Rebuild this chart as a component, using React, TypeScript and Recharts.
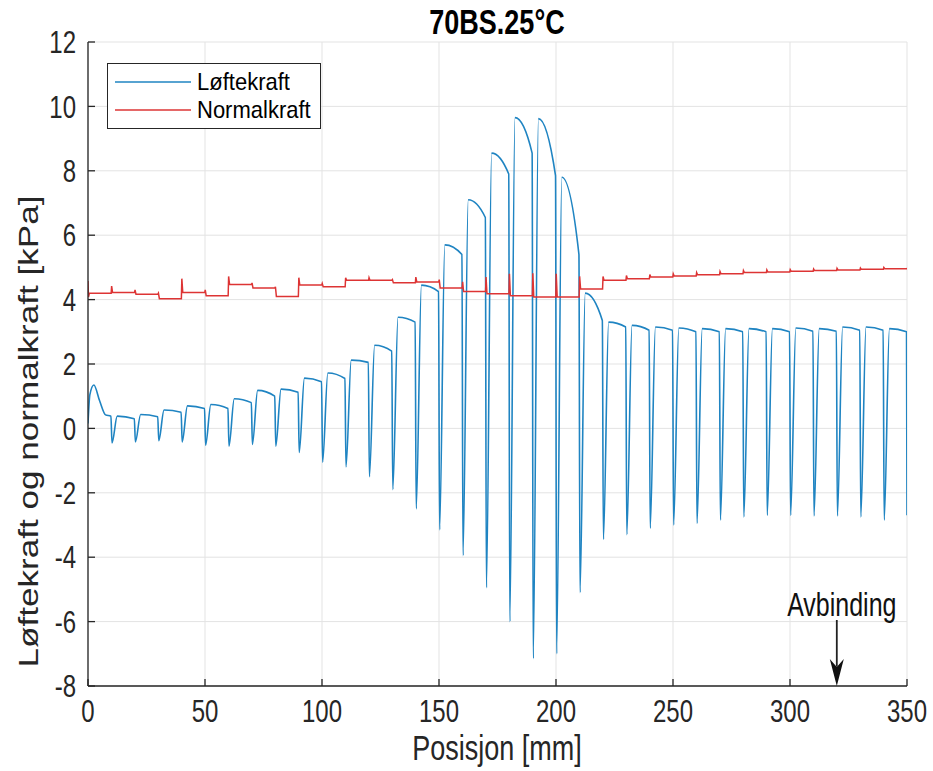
import React from 'react';
import { LineChart, Line, XAxis, YAxis, CartesianGrid, Legend, ReferenceLine, ReferenceDot } from 'recharts';

const xTicks = [0, 50, 100, 150, 200, 250, 300, 350];
const yTicks = [-8, -6, -4, -2, 0, 2, 4, 6, 8, 10, 12];

// Løftekraft: first cycle read point by point, then one dip / peak / end per 10 mm cycle
const liftStart = [[0, 0.15], [0.8, 1.05], [2.5, 1.35], [5, 0.85], [7.5, 0.42], [9.8, 0.38]];
const liftDips = [-0.45, -0.42, -0.38, -0.42, -0.52, -0.55, -0.5, -0.55, -0.75, -1.05, -1.2, -1.5, -1.9, -2.5, -3.15, -3.95, -4.95, -6.0, -7.15, -7.0, -5.1, -3.45, -3.3, -3.1, -3.0, -2.95, -2.85, -2.75, -2.7, -2.7, -2.72, -2.72, -2.75, -2.85];
const liftPeaks = [0.38, 0.43, 0.57, 0.7, 0.74, 0.92, 1.18, 1.22, 1.56, 1.72, 2.12, 2.58, 3.45, 4.45, 5.7, 7.1, 8.55, 9.65, 9.62, 7.8, 4.2, 3.3, 3.2, 3.15, 3.12, 3.1, 3.1, 3.1, 3.1, 3.12, 3.1, 3.15, 3.15, 3.1];
const liftEnds = [0.3, 0.36, 0.5, 0.62, 0.62, 0.8, 1.0, 1.12, 1.45, 1.55, 2.05, 2.4, 3.3, 4.25, 5.4, 6.55, 7.9, 8.55, 7.85, 5.4, 3.35, 3.15, 3.05, 3.05, 3.0, 3.0, 3.0, 3.0, 3.0, 3.02, 3.02, 3.05, 3.05, 3.0];
const liftLast = -2.7;

// Normalkraft: spike at each 10 mm boundary, level within the cycle
const normStart = [[0, 4.58], [0.2, 4.08]];
const normSpikes = [4.42, 4.3, 4.2, 4.65, 4.3, 4.72, 4.52, 4.4, 4.68, 4.5, 4.68, 4.68, 4.62, 4.7, 4.62, 4.55, 4.7, 4.8, 4.82, 4.8, 4.72, 4.72, 4.75, 4.78, 4.8, 4.84, 4.87, 4.9, 4.92, 4.93, 4.95, 4.97, 4.98, 5.0];
const normLevels = [4.2, 4.22, 4.17, 4.03, 4.22, 4.12, 4.47, 4.36, 4.1, 4.45, 4.4, 4.6, 4.6, 4.52, 4.55, 4.36, 4.25, 4.18, 4.12, 4.08, 4.08, 4.33, 4.6, 4.65, 4.7, 4.73, 4.77, 4.8, 4.84, 4.86, 4.88, 4.9, 4.92, 4.94, 4.96];
const normLast = 4.98;

const liftData: { x: number; y: number }[] = liftStart.map(([x, y]) => ({ x, y }));
liftDips.forEach((d, i) => {
  const s = (i + 1) * 10;
  liftData.push({ x: s + 0.25, y: d }, { x: s + 2.5, y: liftPeaks[i] }, { x: s + 9.8, y: liftEnds[i] });
});
liftData.push({ x: 350, y: liftLast });

const normData: { x: number; y: number }[] = normStart.map(([x, y]) => ({ x, y }));
normData.push({ x: 0.6, y: normLevels[0] }, { x: 9.9, y: normLevels[0] });
normSpikes.forEach((sp, i) => {
  const s = (i + 1) * 10;
  normData.push({ x: s + 0.1, y: sp }, { x: s + 0.5, y: normLevels[i + 1] }, { x: s + 9.9, y: normLevels[i + 1] });
});
normData.push({ x: 350, y: normLast });

const FONT = '"Liberation Sans", Arial, Helvetica, sans-serif';
const INK = '#262626';
const STRETCH = 1.3; // the reference picture is stretched vertically
const BLUE = '#1f84c2';
const RED = '#dd3434';

const stretchAt = (cy: number) => `matrix(1 0 0 ${STRETCH} 0 ${cy * (1 - STRETCH)})`;

const XTick = ({ x, y, payload }: any) => (
  <text x={x} y={y + 0.36 * 24} textAnchor="middle" fontSize={24} fontFamily={FONT} fill={INK} transform={stretchAt(y)}>
    {payload.value}
  </text>
);

const YTick = ({ x, y, payload }: any) => (
  <text x={x} y={y + 0.36 * 24} textAnchor="end" fontSize={24} fontFamily={FONT} fill={INK} transform={stretchAt(y)}>
    {payload.value}
  </text>
);

const NoTick = () => <g />;

const renderLegend = ({ payload }: any) => (
  <div style={{ position: 'relative', width: 214, height: 66, border: `1px solid ${INK}`, background: '#fff', boxSizing: 'border-box' }}>
    {(payload || []).map((item: any, i: number) => (
      <div key={i} style={{ position: 'absolute', left: 0, top: 5 + i * 28, height: 26, width: 212 }}>
        <svg width={80} height={26} style={{ position: 'absolute', left: 6, top: 0 }}>
          <line x1={1} y1={13} x2={77} y2={13} stroke={item.color} strokeWidth={1.5} />
        </svg>
        <div style={{ position: 'absolute', left: 89, top: 3, height: 20, lineHeight: '20px', fontSize: 22, fontFamily: FONT, color: '#000', transform: 'scaleY(1.1)', whiteSpace: 'nowrap' }}>
          {item.value}
        </div>
      </div>
    ))}
  </div>
);

const ArrowHead = ({ cx, cy }: any) => (
  <path d={`M${cx},${cy} L${cx - 7},${cy - 27} L${cx},${cy - 19} L${cx + 7},${cy - 27} Z`} fill="#111" />
);

const AvbindingText = ({ cx, cy }: any) => (
  <text x={cx + 5} y={cy + 0.36 * 25} textAnchor="middle" fontSize={25} fontFamily={FONT} fill="#111" transform={stretchAt(cy)}>
    Avbinding
  </text>
);

export default function App() {
  return (
    <div style={{ position: 'absolute', left: 0, top: 0, width: 933, height: 771, background: '#fff' }}>
      <LineChart width={933} height={771} margin={{ top: 42, right: 26, bottom: 0, left: 28 }}>
        <CartesianGrid stroke="#e3e3e3" strokeWidth={1} />
        <XAxis dataKey="x" type="number" domain={[0, 350]} ticks={xTicks} interval={0} allowDataOverflow
          height={85} tickSize={-7} tickMargin={32} tick={<XTick />}
          axisLine={{ stroke: INK, strokeWidth: 1.3 }} tickLine={{ stroke: INK, strokeWidth: 1.3 }} />
        <XAxis xAxisId="top" orientation="top" dataKey="x" type="number" domain={[0, 350]} ticks={xTicks} interval={0} allowDataOverflow
          height={0} tickSize={-7} tick={NoTick}
          axisLine={{ stroke: INK, strokeWidth: 1.3 }} tickLine={{ stroke: INK, strokeWidth: 1.3 }} />
        <YAxis type="number" domain={[-8, 12]} ticks={yTicks} interval={0} allowDataOverflow
          width={60} tickSize={-7} tickMargin={19} tick={<YTick />}
          axisLine={{ stroke: INK, strokeWidth: 1.3 }} tickLine={{ stroke: INK, strokeWidth: 1.3 }} />
        <YAxis yAxisId="right" orientation="right" type="number" domain={[-8, 12]} ticks={yTicks} interval={0} allowDataOverflow
          width={0} tickSize={-7} tick={NoTick}
          axisLine={{ stroke: INK, strokeWidth: 1.3 }} tickLine={{ stroke: INK, strokeWidth: 1.3 }} />
        <Line data={liftData} dataKey="y" name="Løftekraft" type="monotone" stroke={BLUE} strokeWidth={1.6}
          dot={false} activeDot={false} isAnimationActive={false} />
        <Line data={normData} dataKey="y" name="Normalkraft" type="linear" stroke={RED} strokeWidth={1.5}
          dot={false} activeDot={false} isAnimationActive={false} />
        <ReferenceLine segment={[{ x: 320, y: -5.95 }, { x: 320, y: -7.4 }]} stroke="#222" strokeWidth={1.8} ifOverflow="visible" />
        <ReferenceDot x={320} y={-8} r={1} shape={ArrowHead} ifOverflow="visible" />
        <ReferenceDot x={320} y={-5.45} r={1} shape={AvbindingText} ifOverflow="visible" />
        <Legend layout="vertical" align="center" verticalAlign="middle" content={renderLegend}
          wrapperStyle={{ left: 107, top: 63, width: 214, height: 66 }} />
      </LineChart>
      <div style={{ position: 'absolute', left: 347, top: 8.5, width: 300, height: 27, lineHeight: '27px', textAlign: 'center', fontFamily: FONT, fontWeight: 'bold', fontSize: 27, color: '#000', transform: `scaleY(${STRETCH})` }}>
        70BS.25°C
      </div>
      <div style={{ position: 'absolute', left: 347, top: 734.5, width: 300, height: 27, lineHeight: '27px', textAlign: 'center', fontFamily: FONT, fontSize: 27, color: INK, transform: `scaleY(${STRETCH})` }}>
        Posisjon [mm]
      </div>
      <div style={{ position: 'absolute', left: 29 - 300, top: 431 - 13.5, width: 600, height: 27, lineHeight: '27px', textAlign: 'center', fontFamily: FONT, fontSize: 27, color: INK, transform: `rotate(-90deg) scaleX(${STRETCH})`, whiteSpace: 'nowrap' }}>
        Løftekraft og normalkraft [kPa]
      </div>
    </div>
  );
}
